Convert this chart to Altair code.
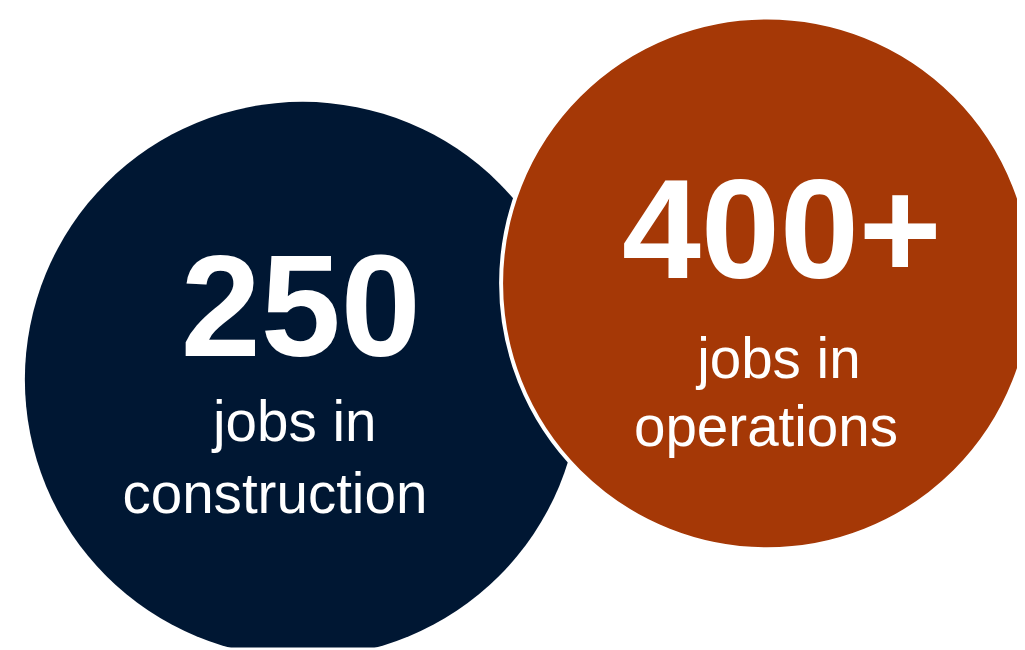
import altair as alt
import pandas as pd

# ---- data ----
categories = ["construction", "operations"]
headline = ["250", "400+"]
line1 = ["jobs in", "jobs in"]
line2 = ["construction", "operations"]
colors = ["#001733", "#A53806"]

# ---- layout (screen pixel coordinates) ----
circle_cx = [305, 773]
circle_cy = [380, 283]
circle_r = [280, 268]
head_x = [303, 788]
head_y = [356, 278]
l1_x = [297, 785]
l1_y = [442, 378]
l2_x = [277, 772]
l2_y = [514, 447]

W, H = 1017, 642
xs = alt.Scale(domain=[8, 8 + W], range=[0, W])
ys = alt.Scale(domain=[8, 8 + H], range=[0, H])

circles = pd.DataFrame({
    "cat": categories,
    "x": circle_cx,
    "y": circle_cy,
    "size": [(2 * r) ** 2 for r in circle_r],
    "color": colors,
})

texts = pd.DataFrame({
    "cat": categories * 3,
    "text": headline + line1 + line2,
    "x": head_x + l1_x + l2_x,
    "y": head_y + l1_y + l2_y,
    "kind": ["head"] * 2 + ["sub"] * 4,
})

base_enc = dict(
    x=alt.X("x:Q", scale=xs, axis=None),
    y=alt.Y("y:Q", scale=ys, axis=None),
)

navy = alt.Chart(circles[circles.cat == "construction"]).mark_circle(
    opacity=1, clip=True
).encode(
    size=alt.Size("size:Q", scale=None, legend=None),
    color=alt.Color("color:N", scale=None, legend=None),
    **base_enc,
)

orange = alt.Chart(circles[circles.cat == "operations"]).mark_circle(
    opacity=1, stroke="white", strokeWidth=4, strokeOpacity=1, clip=True
).encode(
    size=alt.Size("size:Q", scale=None, legend=None),
    color=alt.Color("color:N", scale=None, legend=None),
    **base_enc,
)

head_navy = alt.Chart(texts[(texts.kind == "head") & (texts.cat == "construction")]).mark_text(
    font="Liberation Sans", fontWeight="bold", fontSize=145, color="white",
    align="center", baseline="alphabetic"
).encode(text="text:N", **base_enc)

head_orange = alt.Chart(texts[(texts.kind == "head") & (texts.cat == "operations")]).mark_text(
    font="Liberation Sans", fontWeight="bold", fontSize=143, color="white",
    align="center", baseline="alphabetic"
).encode(text="text:N", **base_enc)

subs = alt.Chart(texts[texts.kind == "sub"]).mark_text(
    font="Liberation Sans", fontSize=57, color="white",
    align="center", baseline="alphabetic"
).encode(text="text:N", **base_enc)

chart = alt.layer(navy, orange, head_navy, head_orange, subs).properties(
    width=W, height=H, padding=0, autosize=alt.AutoSizeParams(type="none"),
    background="white",
).configure_view(stroke=None)

chart.save("out.html", embed_options={"renderer": "svg", "actions": False})
